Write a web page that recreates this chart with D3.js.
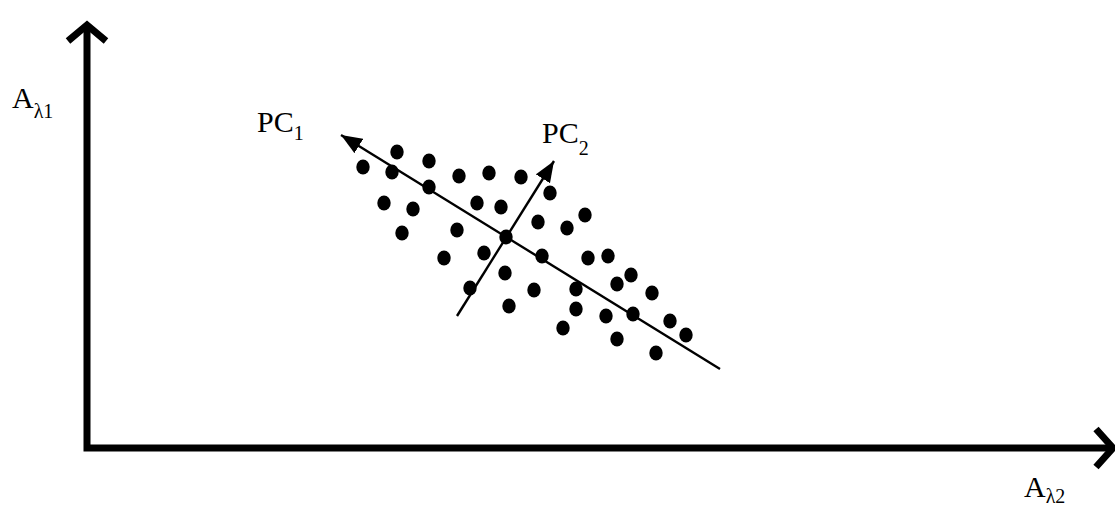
<!DOCTYPE html>
<html>
<head>
<meta charset="utf-8">
<script src="https://cdn.jsdelivr.net/npm/d3@7"></script>
<style>
  body { margin: 0; background: #fff; }
  text { font-family: "Liberation Serif", "Times New Roman", serif; fill: #000; }
</style>
</head>
<body>
<div id="chart"></div>
<script>
// sample scores in the A_λ2 / A_λ1 plane (arbitrary units, origin at the axes corner)
const pointsX = [276, 310, 305, 342, 342, 372, 402, 434, 390, 414, 463, 297, 326, 315, 370, 451, 480, 498, 419, 397,
                 357, 455, 418, 501, 521, 544, 383, 447, 489, 530, 422, 565, 489, 519, 546, 476, 583, 599, 530, 569];
const pointsY = [281, 296, 276, 287, 261, 272, 275, 271, 245, 241, 255, 245, 239, 215, 218, 226, 220, 233, 211, 195,
                 190, 192, 175, 190, 192, 173, 160, 158, 159, 164, 142, 155, 139, 132, 134, 120, 127, 113, 109, 95];

// principal component directions: [start, end]
const pc1 = [[633, 79], [254, 313]];
const pc2 = [[370, 132], [467, 287]];

const axisMax = [1026, 423];

const width = 1115, height = 508;
const origin = {x: 87, y: 448};

const xScale = d3.scaleLinear().domain([0, axisMax[0]]).range([origin.x, origin.x + axisMax[0]]);
const yScale = d3.scaleLinear().domain([0, axisMax[1]]).range([origin.y, origin.y - axisMax[1]]);

const svg = d3.select("#chart")
  .append("svg")
  .attr("width", width)
  .attr("height", height);

svg.append("defs").append("marker")
  .attr("id", "tri")
  .attr("viewBox", "0 0 20 16")
  .attr("refX", 20)
  .attr("refY", 8)
  .attr("markerWidth", 21)
  .attr("markerHeight", 17)
  .attr("markerUnits", "userSpaceOnUse")
  .attr("orient", "auto")
  .append("path")
  .attr("d", "M0,0 L20,8 L0,16 Z")
  .attr("fill", "#000");

// axes with open chevron heads
const axes = svg.append("g").attr("stroke", "#000").attr("fill", "none")
  .attr("stroke-width", 7).attr("stroke-linecap", "square").attr("stroke-linejoin", "miter");

axes.append("path")
  .attr("d", `M${xScale(0)},${yScale(axisMax[1]) + 3} L${xScale(0)},${yScale(0)} L${xScale(axisMax[0]) - 3},${yScale(0)}`);

const vx = xScale(0), vy = yScale(axisMax[1]);
axes.append("path")
  .attr("d", `M${vx - 19},${vy + 16} L${vx},${vy} L${vx + 19},${vy + 16}`)
  .attr("stroke-linecap", "butt");

const hx = xScale(axisMax[0]), hy = yScale(0);
axes.append("path")
  .attr("d", `M${hx - 17},${hy - 19} L${hx},${hy} L${hx - 17},${hy + 19}`)
  .attr("stroke-linecap", "butt");

// PC lines
svg.selectAll("line.pc")
  .data([pc1, pc2])
  .join("line")
  .attr("class", "pc")
  .attr("x1", d => xScale(d[0][0]))
  .attr("y1", d => yScale(d[0][1]))
  .attr("x2", d => xScale(d[1][0]))
  .attr("y2", d => yScale(d[1][1]))
  .attr("stroke", "#000")
  .attr("stroke-width", 2.4)
  .attr("marker-end", "url(#tri)");

// points
svg.selectAll("ellipse.pt")
  .data(d3.zip(pointsX, pointsY))
  .join("ellipse")
  .attr("class", "pt")
  .attr("cx", d => xScale(d[0]))
  .attr("cy", d => yScale(d[1]))
  .attr("rx", 6.7)
  .attr("ry", 7.6)
  .attr("fill", "#000");

// labels
function label(x, y, main, sub, subDy) {
  const t = svg.append("text").attr("x", x).attr("y", y).style("font-size", "30px");
  t.append("tspan").text(main);
  t.append("tspan").attr("dy", subDy).style("font-size", "20px").text(sub);
}
label(12, 108, "A", "λ1", 10);
label(1024, 497, "A", "λ2", 6);
label(257, 132, "PC", "1", 8);
label(542, 143, "PC", "2", 12);
</script>
</body>
</html>
